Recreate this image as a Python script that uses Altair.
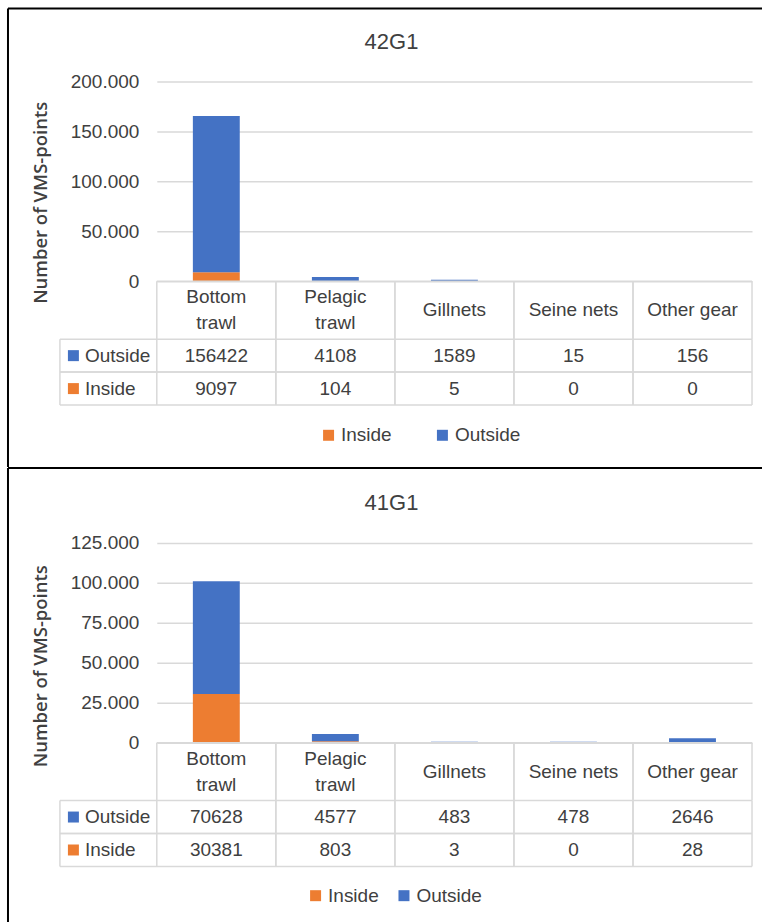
import altair as alt
import pandas as pd

# ---------------- data ----------------
GEARS = ["Bottom trawl", "Pelagic trawl", "Gillnets", "Seine nets", "Other gear"]
GEAR_LINES = ["Bottom\ntrawl", "Pelagic\ntrawl", "Gillnets", "Seine nets", "Other gear"]
SERIES = ["Inside", "Outside"]
ROWS = ["Outside", "Inside"]
Y_TITLE = "Number of VMS-points"

P1_TITLE = "42G1"
P1_OUTSIDE = [156422, 4108, 1589, 15, 156]
P1_INSIDE = [9097, 104, 5, 0, 0]
P1_TICKS = [0, 50000, 100000, 150000, 200000]

P2_TITLE = "41G1"
P2_OUTSIDE = [70628, 4577, 483, 478, 2646]
P2_INSIDE = [30381, 803, 3, 0, 28]
P2_TICKS = [0, 25000, 50000, 75000, 100000, 125000]

# ---------------- style ----------------
BLUE = "#4472C4"
ORANGE = "#ED7D31"
TEXT = "#404040"
LINE = "#D9D9D9"
FONT = "Liberation Sans"
W, H = 596, 200
HEAD_H = 58
ROW_H = 33
LABEL_COL = 97
GAP = 138


def one():
    return pd.DataFrame({"k": [0]})


def panel(title, outside, inside, ticks, title_off, ytitle_y, leg_x, leg_y, leg_gap,
          frame_top, frame_bottom):
    long = pd.DataFrame({
        "gear": GEARS * 2,
        "series": ["Inside"] * 5 + ["Outside"] * 5,
        "value": inside + outside,
        "order": [0] * 5 + [1] * 5,
    })
    xs = alt.Scale(domain=GEARS, paddingInner=0.606, paddingOuter=0.303)
    cs = alt.Scale(domain=SERIES, range=[ORANGE, BLUE])

    bars = alt.Chart(long).mark_bar().encode(
        x=alt.X("gear:N", scale=xs, axis=None, sort=GEARS),
        y=alt.Y(
            "value:Q", stack="zero",
            scale=alt.Scale(domain=[0, ticks[-1]], nice=False),
            axis=alt.Axis(
                values=ticks,
                labelExpr="replace(format(datum.value, ','), ',', '.')",
                title=Y_TITLE, titleFont="Open Sans", titleFontWeight=600,
                titleFontSize=18.5, titleColor=TEXT, titleAngle=270,
                titleX=-110, titleY=ytitle_y, titleAlign="center",
                titleBaseline="alphabetic",
                labelFont=FONT, labelFontSize=19, labelColor=TEXT,
                labelPadding=18, ticks=False, tickSize=0, domain=False,
                grid=True, gridColor=LINE, gridWidth=1.5,
            ),
        ),
        color=alt.Color(
            "series:N", scale=cs,
            legend=alt.Legend(
                title=None, orient="none", legendX=leg_x, legendY=leg_y,
                direction="horizontal", symbolType="square", symbolSize=121,
                symbolStrokeWidth=0, symbolOpacity=1, labelFont=FONT,
                labelFontSize=19, labelColor=TEXT, labelOffset=3,
                columnPadding=leg_gap, padding=0,
            ),
        ),
        order=alt.Order("order:Q", sort="ascending"),
    ).properties(
        width=W, height=H,
        title=alt.TitleParams(
            text=title, font=FONT, fontSize=22, fontWeight="normal", color=TEXT,
            anchor="middle", dx=-63, offset=title_off, baseline="alphabetic",
        ),
    )

    # ---- header row of data table ----
    ts = alt.Scale(domain=GEARS, paddingInner=0, paddingOuter=0)
    hdr = pd.DataFrame({"gear": GEARS, "label": GEAR_LINES})
    text_style = dict(font=FONT, fontSize=19, color=TEXT, baseline="middle", align="center")
    h_text2 = alt.Chart(hdr).transform_filter(
        "indexof(datum.label, '\\n') >= 0"
    ).mark_text(lineBreak="\n", lineHeight=26, **text_style).encode(
        x=alt.X("gear:N", scale=ts, axis=None, sort=GEARS),
        y=alt.value(HEAD_H / 2 - 13),
        text="label:N",
    )
    h_text1 = alt.Chart(hdr).transform_filter(
        "indexof(datum.label, '\\n') < 0"
    ).mark_text(**text_style).encode(
        x=alt.X("gear:N", scale=ts, axis=None, sort=GEARS),
        y=alt.value(HEAD_H / 2),
        text="label:N",
    )
    h_vl = alt.Chart(hdr).mark_rule(color=LINE, strokeWidth=1.5).encode(
        x=alt.X("gear:N", scale=ts, axis=None, sort=GEARS, bandPosition=0))
    h_vr = alt.Chart(hdr).mark_rule(color=LINE, strokeWidth=1.5).encode(
        x=alt.X("gear:N", scale=ts, axis=None, sort=GEARS, bandPosition=1))
    h_top = alt.Chart(one()).mark_rule(color=LINE, strokeWidth=1.5).encode(
        x=alt.value(0), x2=alt.value(W), y=alt.value(0))
    fr_top = alt.Chart(one()).mark_rule(color="black", strokeWidth=2).encode(
        x=alt.value(-149), x2=alt.value(606), y=alt.value(frame_top))
    fr_left = alt.Chart(one()).mark_rule(color="black", strokeWidth=2).encode(
        x=alt.value(-149), y=alt.value(frame_top), y2=alt.value(frame_bottom))
    header = alt.layer(h_vl, h_vr, h_top, h_text2, h_text1, fr_top, fr_left).properties(
        width=W, height=HEAD_H)

    # ---- value rows of data table ----
    rs = alt.Scale(domain=ROWS, paddingInner=0, paddingOuter=0)
    rows_long = pd.DataFrame({
        "gear": GEARS * 2,
        "row": ["Outside"] * 5 + ["Inside"] * 5,
        "value": outside + inside,
    })
    rowdf = pd.DataFrame({"row": ROWS})
    r_text = alt.Chart(rows_long).mark_text(**text_style).encode(
        x=alt.X("gear:N", scale=ts, axis=None, sort=GEARS),
        y=alt.Y("row:N", scale=rs, sort=ROWS, axis=None),
        text=alt.Text("value:Q", format="d"),
    )
    r_lab = alt.Chart(rowdf).mark_text(
        font=FONT, fontSize=19, color=TEXT, baseline="middle", align="left"
    ).encode(
        x=alt.value(-72),
        y=alt.Y("row:N", scale=rs, sort=ROWS, axis=None),
        text="row:N",
    )
    r_ht = alt.Chart(rowdf).mark_rule(color=LINE, strokeWidth=1.5).encode(
        y=alt.Y("row:N", scale=rs, sort=ROWS, axis=None, bandPosition=0),
        x=alt.value(-LABEL_COL), x2=alt.value(W))
    r_hb = alt.Chart(rowdf).mark_rule(color=LINE, strokeWidth=1.5).encode(
        y=alt.Y("row:N", scale=rs, sort=ROWS, axis=None, bandPosition=1),
        x=alt.value(-LABEL_COL), x2=alt.value(W))
    r_vl = alt.Chart(hdr).mark_rule(color=LINE, strokeWidth=1.5).encode(
        x=alt.X("gear:N", scale=ts, axis=None, sort=GEARS, bandPosition=0))
    r_vr = alt.Chart(hdr).mark_rule(color=LINE, strokeWidth=1.5).encode(
        x=alt.X("gear:N", scale=ts, axis=None, sort=GEARS, bandPosition=1))
    r_lc = alt.Chart(one()).mark_rule(color=LINE, strokeWidth=1.5).encode(
        x=alt.value(-LABEL_COL), y=alt.value(0), y2=alt.value(2 * ROW_H))
    r_sw = alt.Chart(rowdf).mark_square(size=121, opacity=1).encode(
        x=alt.value(-83.5),
        y=alt.Y("row:N", scale=rs, sort=ROWS, axis=None),
        color=alt.Color("row:N", scale=cs, legend=None),
    )
    rows = alt.layer(r_ht, r_hb, r_vl, r_vr, r_lc, r_text, r_lab, r_sw).properties(
        width=W, height=2 * ROW_H)

    return [bars, header, rows]


p1 = panel(P1_TITLE, P1_OUTSIDE, P1_INSIDE, P1_TICKS, title_off=2, ytitle_y=121,
           leg_x=162.5, leg_y=344.5, leg_gap=41, frame_top=-273, frame_bottom=186)
p2 = panel(P2_TITLE, P2_OUTSIDE, P2_INSIDE, P2_TICKS, title_off=2, ytitle_y=123,
           leg_x=149.5, leg_y=343.5, leg_gap=15.5, frame_top=-275, frame_bottom=182)

spacer = alt.Chart(one()).mark_text(text="").encode(
    x=alt.value(0), y=alt.value(0)).properties(width=W, height=GAP)

chart = alt.vconcat(*p1, spacer, *p2, spacing=0, bounds="flush").resolve_scale(
    x="independent", y="independent", color="independent"
).configure(
    padding={"left": 7, "top": 7, "right": 0, "bottom": 0},
    background="white",
).configure_view(stroke=None)

chart.save("out.html", embed_options={"renderer": "svg", "actions": False})
